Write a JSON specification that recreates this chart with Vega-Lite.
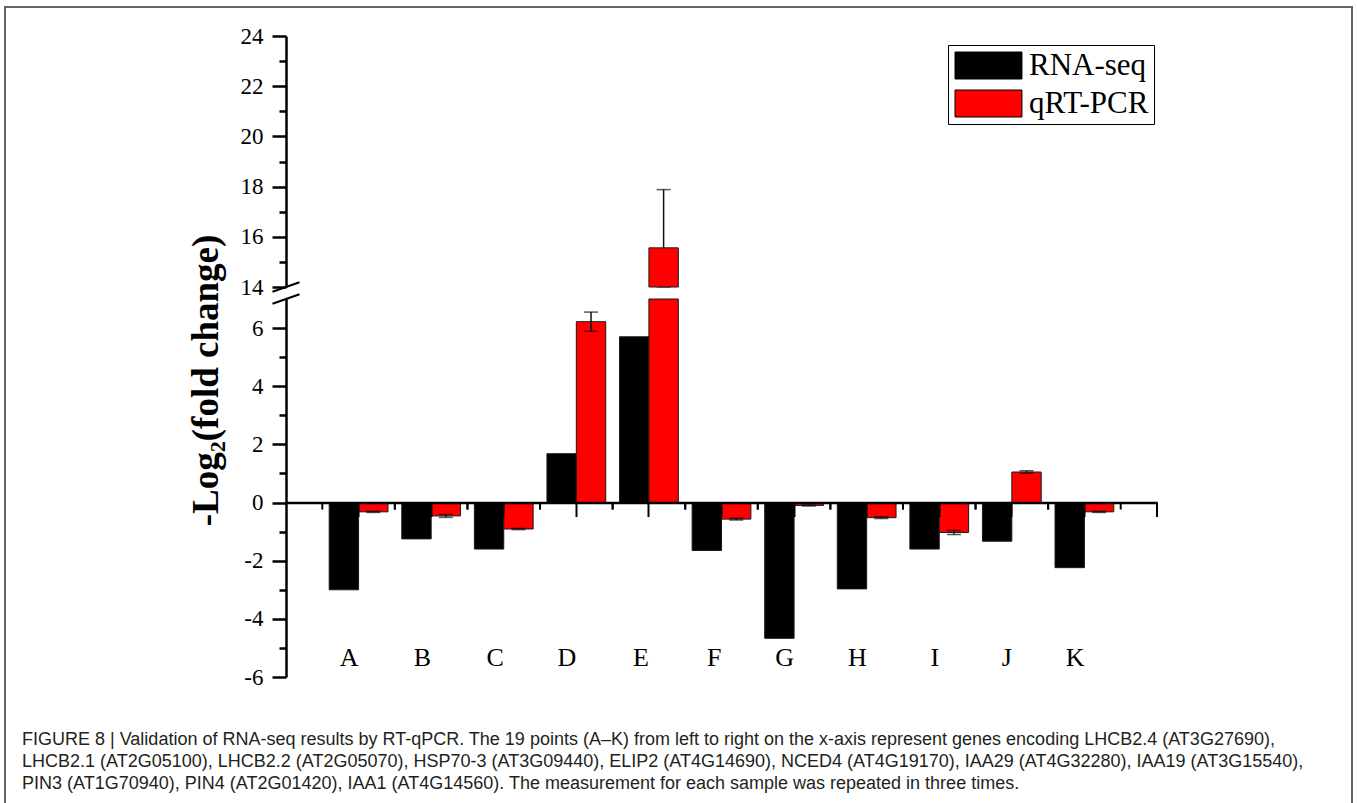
{
  "$schema": "https://vega.github.io/schema/vega-lite/v6.json",
  "width": 1357,
  "height": 803,
  "autosize": {"type": "fit", "contains": "padding"},
  "padding": {"left": 5, "top": 7, "right": 5, "bottom": -3},
  "background": "white",
  "config": {"view": {"stroke": "#666666", "strokeWidth": 2}, "axis": {"grid": false}},
  "title": {
    "text": [
      "FIGURE 8 | Validation of RNA-seq results by RT-qPCR. The 19 points (A–K) from left to right on the x-axis represent genes encoding LHCB2.4 (AT3G27690),",
      "LHCB2.1 (AT2G05100), LHCB2.2 (AT2G05070), HSP70-3 (AT3G09440), ELIP2 (AT4G14690), NCED4 (AT4G19170), IAA29 (AT4G32280), IAA19 (AT3G15540),",
      "PIN3 (AT1G70940), PIN4 (AT2G01420), IAA1 (AT4G14560). The measurement for each sample was repeated in three times."
    ],
    "orient": "bottom",
    "anchor": "start",
    "frame": "group",
    "offset": -75,
    "dx": 17,
    "baseline": "top",
    "font": "Liberation Sans",
    "fontSize": 18,
    "fontWeight": "normal",
    "color": "#231f20",
    "lineHeight": 22
  },
  "data": {
    "values": [
      {"gene": "A", "series": "RNA-seq", "value": -3.0},
      {"gene": "A", "series": "qRT-PCR", "value": -0.32, "err": 0.02},
      {"gene": "B", "series": "RNA-seq", "value": -1.25},
      {"gene": "B", "series": "qRT-PCR", "value": -0.46, "err": 0.05},
      {"gene": "C", "series": "RNA-seq", "value": -1.6},
      {"gene": "C", "series": "qRT-PCR", "value": -0.91, "err": 0.02},
      {"gene": "D", "series": "RNA-seq", "value": 1.68},
      {"gene": "D", "series": "qRT-PCR", "value": 6.22, "err": 0.33},
      {"gene": "E", "series": "RNA-seq", "value": 5.7},
      {"gene": "E", "series": "qRT-PCR", "value": 15.56, "err": 2.32},
      {"gene": "F", "series": "RNA-seq", "value": -1.65},
      {"gene": "F", "series": "qRT-PCR", "value": -0.57, "err": 0.03},
      {"gene": "G", "series": "RNA-seq", "value": -4.67},
      {"gene": "G", "series": "qRT-PCR", "value": -0.1, "err": 0.02},
      {"gene": "H", "series": "RNA-seq", "value": -2.97},
      {"gene": "H", "series": "qRT-PCR", "value": -0.52, "err": 0.03},
      {"gene": "I", "series": "RNA-seq", "value": -1.6},
      {"gene": "I", "series": "qRT-PCR", "value": -1.03, "err": 0.07},
      {"gene": "J", "series": "RNA-seq", "value": -1.33},
      {"gene": "J", "series": "qRT-PCR", "value": 1.05, "err": 0.04},
      {"gene": "K", "series": "RNA-seq", "value": -2.24},
      {"gene": "K", "series": "qRT-PCR", "value": -0.32, "err": 0.02}
    ]
  },
  "resolve": {"scale": {"y": "independent"}, "axis": {"y": "independent"}},
  "layer": [
    {
      "layer": [
        {
          "transform": [{"filter": "datum.series == 'RNA-seq'"}],
          "mark": {"type": "rule", "color": "black", "strokeWidth": 2},
          "encoding": {
            "x": {"field": "gene", "type": "nominal", "bandPosition": 0},
            "y": {"datum": 0, "type": "quantitative"},
            "y2": {"datum": -0.24}
          }
        },
        {
          "transform": [{"filter": "datum.series == 'RNA-seq'"}],
          "mark": {"type": "rule", "color": "black", "strokeWidth": 2},
          "encoding": {
            "x": {"field": "gene", "type": "nominal", "bandPosition": 1},
            "y": {"datum": 0, "type": "quantitative"},
            "y2": {"datum": -0.24}
          }
        },
        {
          "transform": [{"filter": "datum.series == 'RNA-seq' && datum.gene == 'K'"}],
          "mark": {"type": "rule", "color": "black", "strokeWidth": 2},
          "encoding": {
            "x": {"field": "gene", "type": "nominal", "bandPosition": 1.5},
            "y": {"datum": 0, "type": "quantitative"},
            "y2": {"datum": -0.5}
          }
        },
        {
          "mark": {"type": "bar", "stroke": "#1a1a1a", "strokeWidth": 1},
          "encoding": {
            "x": {
              "field": "gene",
              "type": "nominal",
              "scale": {"domain": ["A","B","C","D","E","F","G","H","I","J","K"], "range": [281, 1152], "paddingInner": 0, "paddingOuter": 0.5},
              "axis": {
                "orient": "bottom",
                "offset": -303.5,
                "zindex": 1,
                "title": null,
                "domainColor": "black",
                "domainWidth": 2.5,
                "tickColor": "black",
                "tickWidth": 2,
                "tickSize": 14,
                "labelFont": "Liberation Serif",
                "labelFontSize": 26,
                "labelColor": "black",
                "labelAngle": 0,
                "labelPadding": 141
              }
            },
            "xOffset": {
              "field": "series",
              "type": "nominal",
              "scale": {"domain": ["RNA-seq", "qRT-PCR"], "paddingInner": 0, "paddingOuter": 0.235}
            },
            "y": {
              "field": "value",
              "type": "quantitative",
              "title": "-Log₂(fold change)",
              "scale": {"domain": [-6, 7], "range": [670, 292], "clamp": true, "zero": false, "nice": false},
              "axis": {
                "orient": "left",
                "offset": -281,
                "values": [-6,-5,-4,-3,-2,-1,0,1,2,3,4,5,6],
                "domainColor": "black",
                "domainWidth": 2.5,
                "tickColor": "black",
                "tickWidth": 2.5,
                "tickSize": {"condition": {"test": "datum.value % 2 != 0", "value": 7}, "value": 14},
                "labelExpr": "datum.value % 2 == 0 ? toString(datum.value) : ''",
                "labelFont": "Liberation Serif",
                "labelFontSize": 23,
                "labelColor": "black",
                "labelPadding": 9,
                "labelOverlap": false,
                "title": "-Log₂(fold change)",
                "titleFont": "Liberation Serif",
                "titleFontSize": 37,
                "titleFontWeight": "bold",
                "titleColor": "black",
                "titleAngle": -90,
                "titleX": -80,
                "titleY": 373,
                "titleAlign": "center",
                "titleBaseline": "middle"
              }
            },
            "y2": {"datum": 0},
            "color": {
              "field": "series",
              "type": "nominal",
              "scale": {"domain": ["RNA-seq", "qRT-PCR"], "range": ["#000000", "#ff0000"]},
              "legend": {
                "orient": "none",
                "legendX": 943,
                "legendY": 38,
                "title": null,
                "symbolType": "M-1,-1H3.96V1H-1Z",
                "symbolSize": 729,
                "symbolStrokeColor": "black",
                "symbolStrokeWidth": 1,
                "labelFont": "Liberation Serif",
                "labelFontSize": 31,
                "labelColor": "black",
                "labelOffset": 45,
                "rowPadding": 6,
                "padding": 5,
                "strokeColor": "black",
                "fillColor": "white"
              }
            }
          }
        },
        {
          "transform": [{"filter": "datum.series == 'qRT-PCR' && datum.value < 7"}],
          "mark": {"type": "errorbar", "ticks": {"size": 14, "thickness": 1.5, "color": "#111111"}, "rule": {"strokeWidth": 1.5, "color": "#111111"}},
          "encoding": {
            "x": {"field": "gene", "type": "nominal"},
            "xOffset": {"field": "series", "type": "nominal"},
            "y": {"field": "value", "type": "quantitative", "title": "-Log₂(fold change)"},
            "yError": {"field": "err"}
          }
        },
        {
          "transform": [{"filter": "datum.gene == 'A' && datum.series == 'RNA-seq'"}],
          "mark": {"type": "point", "shape": "M-1,0.35L1,-0.35", "size": 729, "filled": false, "stroke": "black", "strokeWidth": 2, "opacity": 1},
          "encoding": {
            "x": {"field": "gene", "type": "nominal", "bandPosition": -0.5},
            "y": {"datum": 7, "type": "quantitative"}
          }
        }
      ]
    },
    {
      "layer": [
        {
          "transform": [{"filter": "datum.series == 'qRT-PCR' && datum.value > 14"}],
          "mark": {"type": "errorbar", "ticks": {"size": 14, "thickness": 1.5, "color": "#111111"}, "rule": {"strokeWidth": 1.5, "color": "#111111"}},
          "encoding": {
            "x": {"field": "gene", "type": "nominal"},
            "xOffset": {"field": "series", "type": "nominal"},
            "y": {
              "field": "value",
              "type": "quantitative",
              "scale": {"domain": [14, 24], "range": [280, 29], "clamp": true, "zero": false, "nice": false},
              "axis": {
                "orient": "left",
                "offset": -281,
                "values": [14,15,16,17,18,19,20,21,22,23,24],
                "domainColor": "black",
                "domainWidth": 2.5,
                "tickColor": "black",
                "tickWidth": 2.5,
                "tickSize": {"condition": {"test": "datum.value % 2 != 0", "value": 7}, "value": 14},
                "labelExpr": "datum.value % 2 == 0 ? toString(datum.value) : ''",
                "labelFont": "Liberation Serif",
                "labelFontSize": 23,
                "labelColor": "black",
                "labelPadding": 9,
                "labelOverlap": false,
                "title": null
              }
            },
            "yError": {"field": "err"}
          }
        },
        {
          "transform": [{"filter": "datum.series == 'qRT-PCR' && datum.value > 14"}],
          "mark": {"type": "bar", "color": "#ff0000", "stroke": "#1a1a1a", "strokeWidth": 1},
          "encoding": {
            "x": {"field": "gene", "type": "nominal"},
            "xOffset": {"field": "series", "type": "nominal"},
            "y": {"field": "value", "type": "quantitative"},
            "y2": {"datum": 14}
          }
        },
        {
          "transform": [{"filter": "datum.gene == 'A' && datum.series == 'RNA-seq'"}],
          "mark": {"type": "point", "shape": "M-1,0.35L1,-0.35", "size": 729, "filled": false, "stroke": "black", "strokeWidth": 2, "opacity": 1},
          "encoding": {
            "x": {"field": "gene", "type": "nominal", "bandPosition": -0.5},
            "y": {"datum": 14, "type": "quantitative"}
          }
        }
      ]
    }
  ]
}
